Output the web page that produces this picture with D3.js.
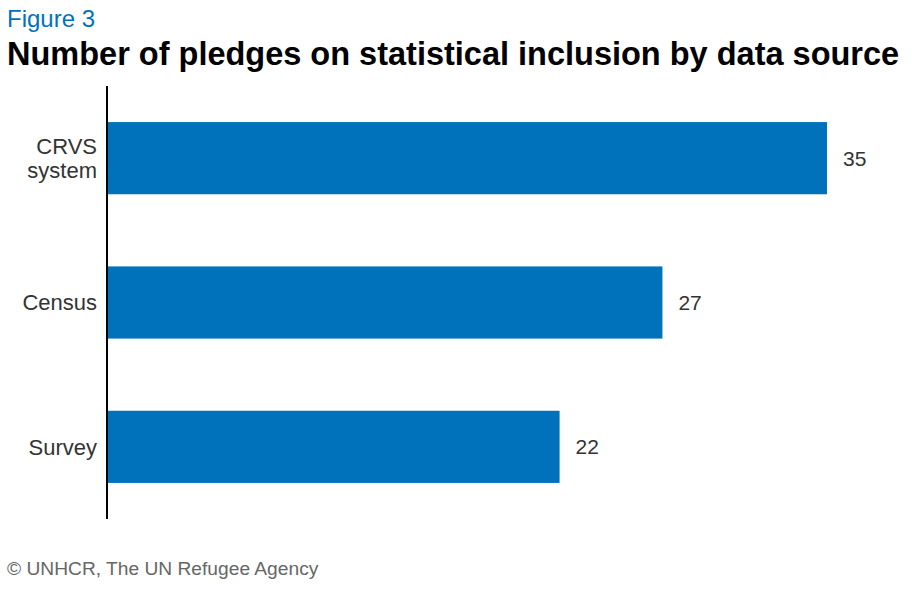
<!DOCTYPE html>
<html>
<head>
<meta charset="utf-8">
<script src="https://cdn.jsdelivr.net/npm/d3@7"></script>
<style>
  body { margin: 0; background: #fff; }
  svg { font-family: "Liberation Sans", Arial, sans-serif; }
</style>
</head>
<body>
<svg id="chart"></svg>
<script>
const categories = [["CRVS", "system"], ["Census"], ["Survey"]]
const values = [35, 27, 22]

const width = 916, height = 592
const margin = {top: 86, right: 60, bottom: 73, left: 107}

const svg = d3.select('#chart').attr('width', width).attr('height', height)

svg.append('text').attr('x', 7).attr('y', 27)
    .attr('fill', '#0072bc').style('font-size', '24px')
    .text('Figure 3')
svg.append('text').attr('x', 7).attr('y', 65)
    .attr('fill', '#000').style('font-size', '32.5px').style('font-weight', 'bold')
    .text('Number of pledges on statistical inclusion by data source')

const x = d3.scaleLinear().domain([0, 35]).range([margin.left, 827])
const y = d3.scaleBand().domain(d3.range(categories.length))
    .range([margin.top, height - margin.bottom])
    .paddingInner(0.5).paddingOuter(0.25)

svg.selectAll('rect.bar').data(values).enter().append('rect')
    .attr('class', 'bar')
    .attr('x', x(0))
    .attr('y', (d, i) => y(i))
    .attr('width', d => x(d) - x(0))
    .attr('height', y.bandwidth())
    .attr('fill', '#0072bc')

svg.selectAll('text.val').data(values).enter().append('text')
    .attr('class', 'val')
    .attr('x', d => x(d) + 16)
    .attr('y', (d, i) => y(i) + y.bandwidth() / 2)
    .attr('dy', '0.35em')
    .attr('fill', '#333').style('font-size', '21px')
    .text(d => d)

// category labels, multi-line
const lab = svg.selectAll('text.cat').data(categories).enter().append('text')
    .attr('class', 'cat')
    .attr('text-anchor', 'end')
    .attr('fill', '#333').style('font-size', '22px')
    .attr('transform', (d, i) => 'translate(' + (margin.left - 10) + ',' + (y(i) + y.bandwidth() / 2) + ')')
lab.each(function(d) {
    const t = d3.select(this)
    const lh = 24
    d.forEach((line, j) => {
        t.append('tspan').attr('x', 0)
            .attr('y', (j - (d.length - 1) / 2) * lh)
            .attr('dy', '0.35em')
            .text(line)
    })
})

svg.append('line')
    .attr('x1', margin.left).attr('x2', margin.left)
    .attr('y1', margin.top).attr('y2', height - margin.bottom)
    .attr('stroke', '#000').attr('stroke-width', 2)

svg.append('text').attr('x', 7).attr('y', 575)
    .attr('fill', '#666').style('font-size', '19.2px')
    .text('© UNHCR, The UN Refugee Agency')
</script>
</body>
</html>
